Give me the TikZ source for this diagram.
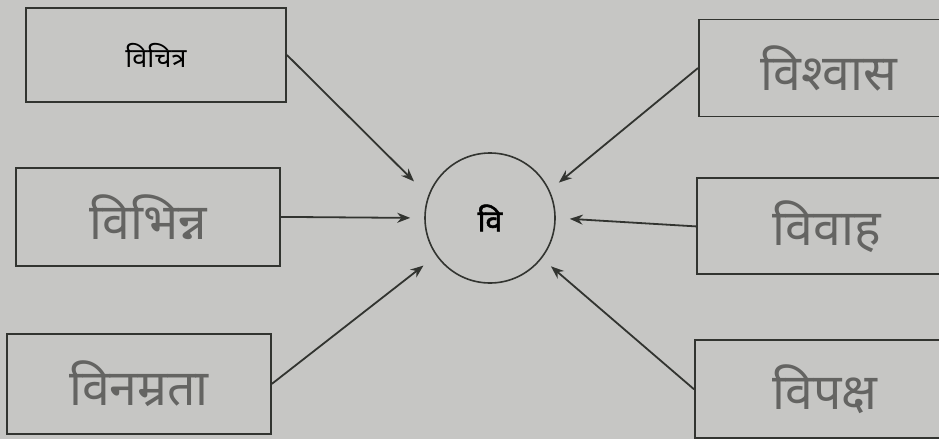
\documentclass[tikz,border=0pt]{standalone}
\usepackage{fontspec}
\newfontfamily\deva[Script=Devanagari]{Noto Sans}
\newfontfamily\devabold[Script=Devanagari,FakeBold=2]{Noto Sans}
\usetikzlibrary{arrows.meta, positioning}

\definecolor{paper}{RGB}{198,198,196}
\definecolor{ink}{RGB}{50,52,48}
\definecolor{pencil}{RGB}{100,100,98}

\begin{document}
\begin{tikzpicture}[
    x=1pt, y=-1pt,
    node distance=64pt and 40pt,
    box/.style={
        draw=ink,
        rectangle,
        line width=1.9pt,
        align=center,
        minimum width=260pt,
        minimum height=96pt,
        inner sep=4pt
    },
    written/.style={
        text=pencil,
        font=\deva\fontsize{50}{56}\selectfont
    },
    printed/.style={
        text=black,
        font=\deva\fontsize{27}{30}\selectfont
    },
    hubnode/.style={
        draw=ink,
        circle,
        line width=1.6pt,
        minimum size=130pt,
        font=\devabold\fontsize{30}{34}\selectfont
    },
    arrow/.style={-{Stealth[length=13pt,width=10pt]}, line width=1.8pt, draw=ink, shorten >=14pt}
]

\fill[paper] (0,0) rectangle (939,439);
\useasboundingbox (0,0) rectangle (939,439);
\clip (0,0) rectangle (939,439);

% Left column
\node[box, printed, minimum height=94pt] (vichitra) at (156,55) {विचित्र};

\node[box, written, minimum height=98pt, minimum width=264pt] (vibhinn) [below=64pt of vichitra, xshift=-8pt] {विभिन्न};

\node[box, written, minimum height=100pt, minimum width=264pt] (vinamrata) [below=66pt of vibhinn, xshift=-9pt] {विनम्रता};

% Centre
\node[hubnode] (hub) at (490,218) {वि};

% Right column
\node[box, written, minimum height=97pt] (vishwas) at (829,68) {विश्वास};

\node[box, written] (vivah) [below=60pt of vishwas, xshift=-2pt] {विवाह};

\node[box, written, minimum height=98pt] (vipaksh) [below=64pt of vivah, xshift=-2pt] {विपक्ष};

% Arrows
\draw[arrow, shorten >=20pt] (vichitra.east) -- (hub.160);
\draw[arrow] (vibhinn.east) -- (hub.west);
\draw[arrow, shorten >=16pt] (vinamrata.east) -- (hub.215);
\draw[arrow, shorten >=12pt] (vishwas.west) -- (hub.25);
\draw[arrow] (vivah.west) -- (hub.east);
\draw[arrow, shorten >=12pt] (vipaksh.west) -- (hub.-38);

\end{tikzpicture}
\end{document}
